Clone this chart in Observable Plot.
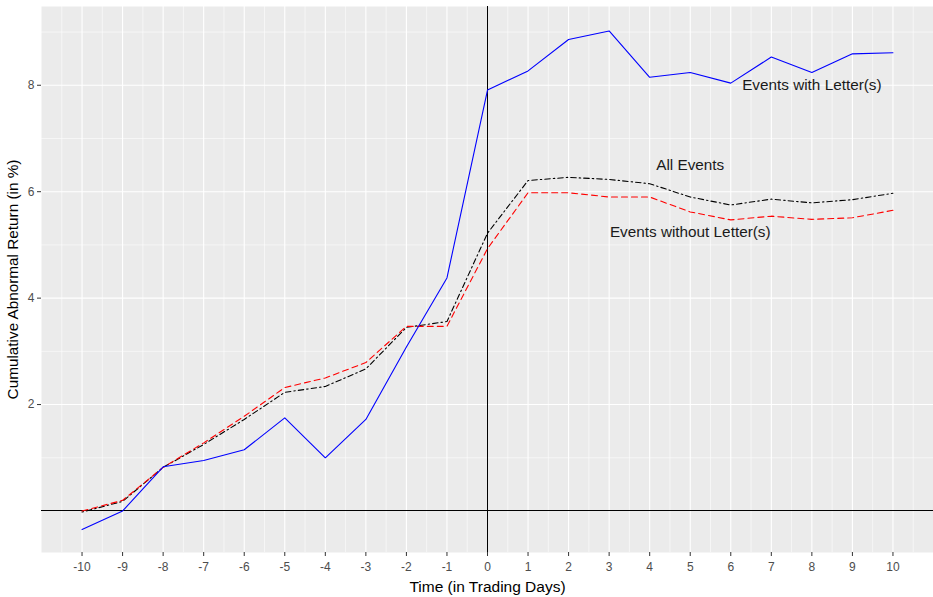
<!DOCTYPE html>
<html>
<head>
<meta charset="utf-8">
<script src="https://cdn.jsdelivr.net/npm/d3@7"></script>
<script src="https://cdn.jsdelivr.net/npm/@observablehq/plot@0.6"></script>
<style>
  html, body { margin: 0; padding: 0; background: #fff; }
  #chart { width: 933px; height: 597px; }
</style>
</head>
<body>
<div id="chart"></div>
<script>
// ---- data ----
const days = [-10, -9, -8, -7, -6, -5, -4, -3, -2, -1, 0, 1, 2, 3, 4, 5, 6, 7, 8, 9, 10];
const withLetters    = [-0.35, 0.00, 0.83, 0.95, 1.15, 1.75, 1.00, 1.72, 3.08, 4.38, 7.91, 8.27, 8.86, 9.02, 8.15, 8.24, 8.04, 8.53, 8.24, 8.59, 8.61];
const allEvents      = [-0.02, 0.18, 0.82, 1.25, 1.72, 2.23, 2.34, 2.67, 3.45, 3.56, 5.22, 6.21, 6.27, 6.23, 6.15, 5.90, 5.75, 5.86, 5.79, 5.85, 5.97];
const withoutLetters = [0.00, 0.20, 0.82, 1.28, 1.78, 2.32, 2.50, 2.79, 3.47, 3.47, 4.93, 5.98, 5.98, 5.90, 5.90, 5.62, 5.47, 5.54, 5.48, 5.51, 5.65];
const xTicks = [-10, -9, -8, -7, -6, -5, -4, -3, -2, -1, 0, 1, 2, 3, 4, 5, 6, 7, 8, 9, 10];
const yTicks = [2, 4, 6, 8];
const yMinor = [1, 3, 5, 7, 9];
const annotationText = ["Events with Letter(s)", "All Events", "Events without Letter(s)"];
const annotationX = [8, 5, 5];
const annotationY = [8, 6.5, 5.25];
const xTitle = "Time (in Trading Days)";
const yTitle = "Cumulative Abnormal Return (in %)";

// ---- tables built from arrays ----
const toRows = (vals) => days.map((d, i) => ({day: d, value: vals[i]}));
const rowsWith = toRows(withLetters);
const rowsAll = toRows(allEvents);
const rowsWithout = toRows(withoutLetters);
const xMinor = xTicks.map(t => t - 0.5).concat([xTicks[xTicks.length - 1] + 0.5]);
const annotations = annotationText.map((t, i) => ({text: t, x: annotationX[i], y: annotationY[i]}));

const font = "'Liberation Sans', Arial, Helvetica, sans-serif";

const chart = Plot.plot({
  width: 933,
  height: 597,
  marginTop: 6,
  marginBottom: 45,
  marginLeft: 41,
  marginRight: 0,
  style: {fontFamily: font, background: "#ffffff", overflow: "visible"},
  x: {domain: [-11, 11], axis: null},
  y: {domain: [-0.78, 9.48], axis: null},
  marks: [
    Plot.frame({fill: "#EBEBEB", stroke: null}),
    Plot.ruleX(xMinor, {stroke: "#ffffff", strokeWidth: 0.55}),
    Plot.ruleY(yMinor, {stroke: "#ffffff", strokeWidth: 0.55}),
    Plot.ruleX(xTicks, {stroke: "#ffffff", strokeWidth: 1.1}),
    Plot.ruleY(yTicks, {stroke: "#ffffff", strokeWidth: 1.1}),
    Plot.ruleY([0], {stroke: "#000000", strokeWidth: 1, shapeRendering: "crispEdges"}),
    Plot.ruleX([0], {stroke: "#000000", strokeWidth: 1.2, shapeRendering: "crispEdges"}),
    Plot.line(rowsAll, {x: "day", y: "value", stroke: "#000000", strokeWidth: 1.1, strokeDasharray: "1.5,3,5.5,3"}),
    Plot.line(rowsWithout, {x: "day", y: "value", stroke: "#FF0000", strokeWidth: 1.1, strokeDasharray: "6,4"}),
    Plot.line(rowsWith, {x: "day", y: "value", stroke: "#0000FF", strokeWidth: 1.1}),
    Plot.text(annotations, {x: "x", y: "y", text: "text", fontSize: 15.3, fill: "#1a1a1a", textAnchor: "middle"}),
    Plot.axisX(xTicks, {tickSize: 4, tickPadding: 6, fontSize: 12, stroke: "#333333", fill: "#4D4D4D", label: null, tickFormat: d => String(d)}),
    Plot.axisY(yTicks, {tickSize: 4, tickPadding: 3, fontSize: 12, stroke: "#333333", fill: "#4D4D4D", label: null, tickFormat: d => String(d)}),
    Plot.text([xTitle], {frameAnchor: "bottom", dy: 39, fontSize: 15.5, fill: "#000000", textAnchor: "middle"}),
    Plot.text([yTitle], {frameAnchor: "left", dx: -28, rotate: -90, fontSize: 15.3, fill: "#000000", textAnchor: "middle"})
  ]
});
document.getElementById("chart").appendChild(chart);
</script>
</body>
</html>
